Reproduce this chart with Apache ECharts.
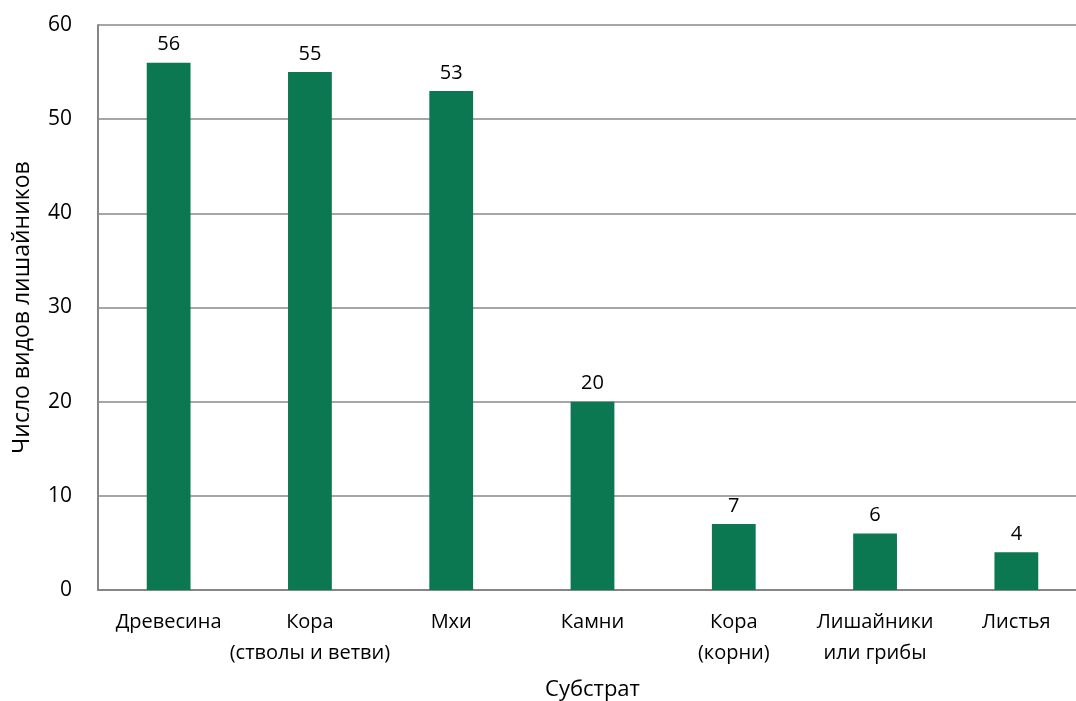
<!DOCTYPE html>
<html>
<head>
<meta charset="utf-8">
<script src="https://cdn.jsdelivr.net/npm/echarts@6/dist/echarts.min.js"></script>
<style>
  html, body { margin: 0; padding: 0; background: #fff; }
  #chart { width: 1076px; height: 701px; }
</style>
</head>
<body>
<div id="chart"></div>
<script>
// substrate categories and number of lichen species
const categories = ["Древесина", "Кора\n(стволы и ветви)", "Мхи", "Камни", "Кора\n(корни)", "Лишайники\nили грибы", "Листья"];
const speciesCount = [56, 55, 53, 20, 7, 6, 4];

const font = "'Open Sans', 'Noto Sans', sans-serif";

let chart = echarts.init(document.getElementById("chart"));

const option = {
  animation: false,
  textStyle: { fontFamily: font },
  grid: {
    left: 98,
    width: 989,  // plot runs past the right edge of the picture
    top: 25,
    bottom: 111,
    outerBoundsMode: "none"
  },
  xAxis: {
    type: "category",
    data: categories,
    name: "Субстрат",
    nameLocation: "middle",
    nameGap: 89,
    nameTextStyle: { color: "#000", fontSize: 22, fontFamily: font },
    axisTick: { show: false },
    axisLine: { lineStyle: { color: "#868686", width: 2 } },
    axisLabel: {
      color: "#000",
      fontSize: 20,
      fontFamily: font,
      interval: 0,
      lineHeight: 31,
      margin: 17
    }
  },
  yAxis: {
    type: "value",
    min: 0,
    max: 60,
    interval: 10,
    name: "Число видов лишайников",
    nameLocation: "middle",
    nameGap: 64,
    nameTextStyle: { color: "#000", fontSize: 23, fontFamily: font },
    axisLine: { show: true, lineStyle: { color: "#868686", width: 2 } },
    axisTick: { show: false },
    splitLine: { lineStyle: { color: "#a6a6a6", width: 2 } },
    axisLabel: { color: "#000", fontSize: 21, fontFamily: font, margin: 26 }
  },
  series: [
    {
      type: "bar",
      data: speciesCount,
      barWidth: "31%",
      itemStyle: { color: "#0b7852" },
      label: {
        show: true,
        position: "top",
        distance: 8,
        color: "#000",
        fontSize: 20,
        fontFamily: font
      }
    }
  ]
};

chart.setOption(option);
</script>
</body>
</html>
